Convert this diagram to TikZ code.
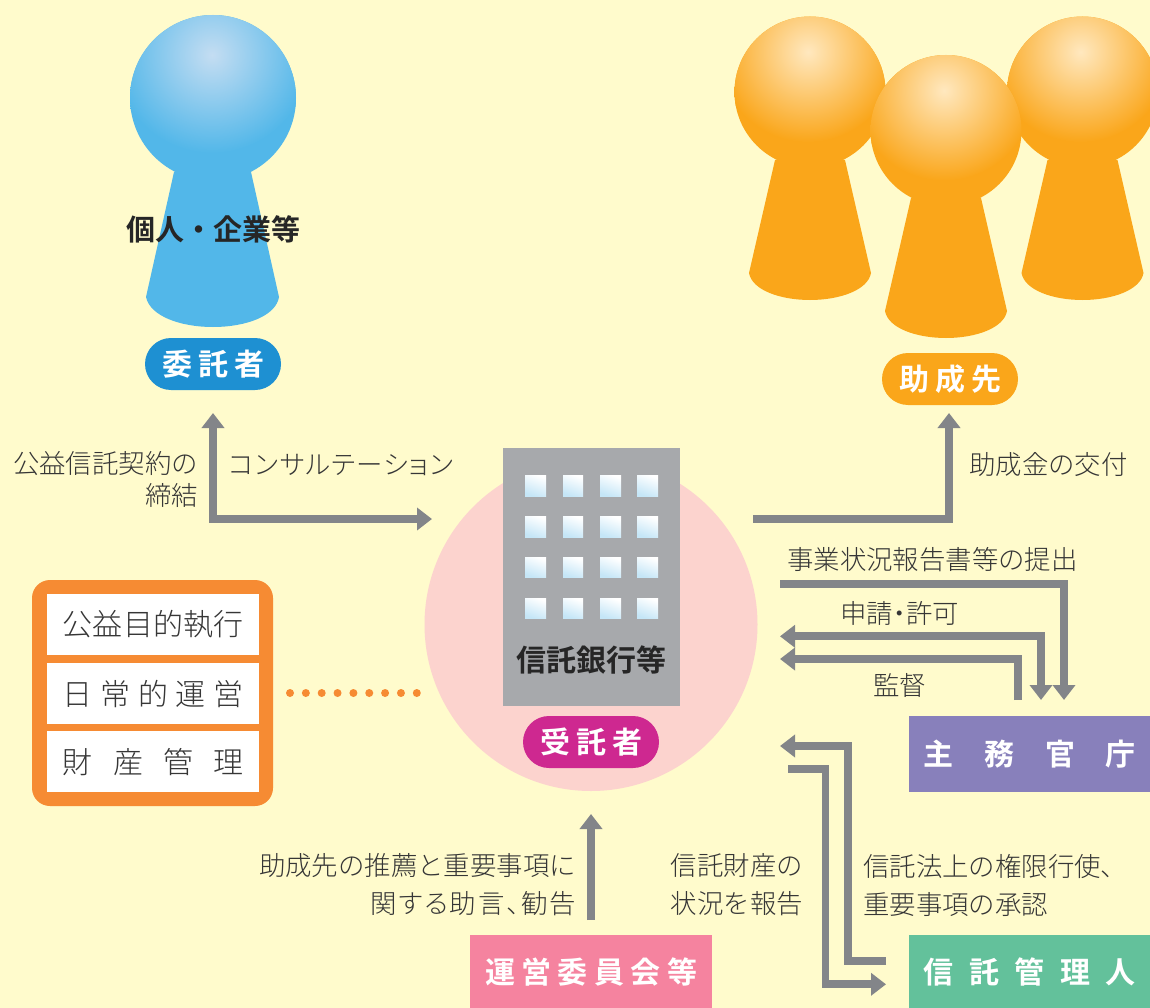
\documentclass[tikz,border=0pt]{standalone}
\usepackage{fontspec}
\usetikzlibrary{arrows.meta}
\newfontfamily\jplight{Noto Sans CJK JP Light}
\newfontfamily\jpbold{Noto Sans CJK JP Bold}
\definecolor{bgc}{HTML}{FFFBCC}
\definecolor{arrowc}{HTML}{838589}
\definecolor{txtc}{HTML}{363636}
\definecolor{blue1}{HTML}{52B7E9}
\definecolor{blue2}{HTML}{C4DDF2}
\definecolor{org1}{HTML}{FAA61A}
\definecolor{org2}{HTML}{FFE8BF}
\definecolor{pinkc}{HTML}{FCD3CE}
\definecolor{bldg}{HTML}{A7A9AC}
\definecolor{winc}{HTML}{C5E6F7}
\definecolor{boxo}{HTML}{F68B33}
\definecolor{pillblue}{HTML}{1E90D2}
\definecolor{pillmag}{HTML}{CE2890}
\definecolor{bandpur}{HTML}{8880BB}
\definecolor{bandgrn}{HTML}{63C19B}
\definecolor{bandrose}{HTML}{F5839F}
\tikzset{
  conn/.style={draw=arrowc,line width=7.8pt},
  ar/.style={-{Triangle[length=15pt,width=22pt]}},
  arb/.style={{Triangle[length=15pt,width=22pt]}-{Triangle[length=15pt,width=22pt]}},
  lab/.style={inner sep=0pt,text=txtc,font=\jplight\fontsize{26.4}{38}\selectfont},
  pill/.style={rounded corners=26pt,minimum width=136pt,minimum height=52pt,inner sep=0pt,text=white,font=\jpbold\fontsize{30}{30}\selectfont},
  band/.style={minimum width=241pt,inner sep=0pt,text=white,anchor=north west,font=\jpbold\fontsize{30}{30}\selectfont},
  cell/.style={fill=white,minimum width=212pt,minimum height=61pt,inner sep=0pt,text=txtc,anchor=north west,font=\jplight\fontsize{30}{30}\selectfont},
  win/.style={top color=white,bottom color=winc,shading angle=-20},
}
\begin{document}
\begin{tikzpicture}[x=1pt,y=-1pt]
\useasboundingbox (0,0) rectangle (1150,1008);
\fill[bgc] (0,0) rectangle (1150,1008);
% Blue figure
\fill[blue1] (174,172) -- (146,297) .. controls (150,316) and (180,327) .. (213,327) .. controls (246,327) and (276,316) .. (279,297) -- (251,172) -- cycle;
\fill[blue1] (213,98) circle (83);
\begin{scope}
\clip (213,98) circle (83);
\shade[inner color=blue2,outer color=blue1] (212,55) circle (98);
\end{scope}
\node[inner sep=0pt,text=black!85,font=\jpbold\fontsize{29}{29}\selectfont] (kojin) at (213,229) {個人・企業等};
\node[pill,fill=pillblue] (itaku) at (213,364) {\raisebox{-1.5pt}{\makebox[102pt][s]{委\hfil 託\hfil 者}}};
% Orange figures
\foreach \cx/\cy/\dy in {810/92/0,1082.5/92/0,946/130.5/38}{
  \fill[org1] (\cx-35,160+\dy) -- (\cx-61,273+\dy) .. controls (\cx-58,290+\dy) and (\cx-30,300+\dy) .. (\cx,300+\dy) .. controls (\cx+30,300+\dy) and (\cx+58,290+\dy) .. (\cx+61,273+\dy) -- (\cx+35,160+\dy) -- cycle;
  \fill[org1] (\cx,\cy) circle (75.5);
  \begin{scope}
  \clip (\cx,\cy) circle (75.5);
  \shade[inner color=org2,outer color=org1] (\cx-2,\cy-40) circle (90);
  \end{scope}
}
\node[pill,fill=org1] (josei) at (950,379) {\raisebox{-1.5pt}{\makebox[102pt][s]{助\hfil 成\hfil 先}}};
% Trustee
\fill[pinkc] (591,624.5) circle (166.5);
\node[fill=bldg,minimum width=177pt,minimum height=258pt,inner sep=0pt,anchor=north west] (bank) at (503,448) {};
\foreach \wy/\wh in {475/21,516/21,557/20,598/20}{
  \foreach \wx/\ww in {525/21,563/20,600/21,637/21}{
    \path[win] (\wx,\wy) rectangle ++(\ww,\wh);
  }
}
\node[inner sep=0pt,text=black!85,font=\jpbold\fontsize{30}{30}\selectfont] (banktxt) at (591,660) {信託銀行等};
\node[pill,fill=pillmag] (jutaku) at (591,742) {\raisebox{-1.5pt}{\makebox[102pt][s]{受\hfil 託\hfil 者}}};
% Duties
\fill[boxo,rounded corners=18pt] (32,580) rectangle (273,806);
\node[cell] (c1) at (47,594) {\makebox[181pt][s]{公\hfil 益\hfil 目\hfil 的\hfil 執\hfil 行}};
\node[cell] (c2) at (47,663) {\makebox[181pt][s]{日\hfil 常\hfil 的\hfil 運\hfil 営}};
\node[cell] (c3) at (47,731) {\makebox[181pt][s]{財\hfil 産\hfil 管\hfil 理}};
\coordinate (d1) at (290,693);
\coordinate (d2) at (417,693);
\draw[boxo,line width=8pt,line cap=round,dash pattern=on 0pt off 15.85pt] (d1) -- (d2);
% Bands
\node[band,fill=bandpur,minimum height=76pt] (shumu) at (909,716) {\makebox[212pt][s]{主\hfil 務\hfil 官\hfil 庁}};
\node[band,fill=bandgrn,minimum height=73pt] (kanri) at (909,935) {\makebox[212pt][s]{信\hfil 託\hfil 管\hfil 理\hfil 人}};
\node[band,fill=bandrose,minimum height=73pt,minimum width=242pt] (unei) at (470,935) {\makebox[212pt][s]{運\hfil 営\hfil 委\hfil 員\hfil 会\hfil 等}};
% Connector points
\coordinate (a1s) at (213,413); \coordinate (a1m) at (213,519); \coordinate (a1e) at (432,519);
\coordinate (a2s) at (753,519); \coordinate (a2m) at (949,519); \coordinate (a2e) at (949,413);
\coordinate (a3s) at (780,583.7); \coordinate (a3m) at (1064,583.7); \coordinate (a3e) at (1064,700);
\coordinate (a4s) at (780,636.3); \coordinate (a4m) at (1041,636.3); \coordinate (a4e) at (1041,700);
\coordinate (a5s) at (1018.3,700); \coordinate (a5m) at (1018.3,659); \coordinate (a5e) at (780,659);
\coordinate (a6s) at (886,961.3); \coordinate (a6m) at (848.3,961.3); \coordinate (a6n) at (848.3,746); \coordinate (a6e) at (780,746);
\coordinate (a7s) at (788,769); \coordinate (a7m) at (825.5,769); \coordinate (a7n) at (825.5,984.3); \coordinate (a7e) at (886,984.3);
\coordinate (a8s) at (591,920); \coordinate (a8e) at (591,814);
\draw[conn,arb] (a1s) -- (a1m) -- (a1e);
\draw[conn,ar] (a2s) -- (a2m) -- (a2e);
\draw[conn,ar] (a3s) -- (a3m) -- (a3e);
\draw[conn,arb] (a4s) -- (a4m) -- (a4e);
\draw[conn,ar] (a5s) -- (a5m) -- (a5e);
\draw[conn,ar] (a6s) -- (a6m) -- (a6n) -- (a6e);
\draw[conn,ar] (a7s) -- (a7m) -- (a7n) -- (a7e);
\draw[conn,ar] (a8s) -- (a8e);
% Labels
\node[lab,align=right,anchor=north east,font=\jplight\fontsize{26.4}{32}\selectfont] (l1) at (198,451) {公益信託契約の\\締結};
\node[lab,anchor=west] (l2) at (229,465) {\addfontfeature{RawFeature=+palt}\makebox[224pt][s]{コ\hfil ン\hfil サ\hfil ル\hfil テ\hfil ー\hfil シ\hfil ョ\hfil ン}};
\node[lab,anchor=west] (l3) at (969,465) {助成金の交付};
\node[lab,anchor=west] (l4) at (787,560) {事業状況報告書等の提出};
\node[lab,anchor=west] (l5) at (840,613) {\makebox[118pt][s]{申請\hfil{\addfontfeature{RawFeature=+palt}・}\hfil 許可}};
\node[lab,anchor=west] (l6) at (873,685) {監督};
\node[lab,align=right,anchor=east] (l7) at (576,885) {助成先の推薦と重要事項に\\{\addfontfeature{RawFeature=+palt}\makebox[205pt][s]{関\hfil す\hfil る\hfil 助\hfil 言\hfil 、\hfil 勧\hfil 告}}};
\node[lab,align=left,anchor=east] (l8) at (803,885) {信託財産の\\状況を報告};
\node[lab,align=left,anchor=west] (l9) at (863,885) {信託法上の権限行使、\\重要事項の承認};
\end{tikzpicture}
\end{document}
